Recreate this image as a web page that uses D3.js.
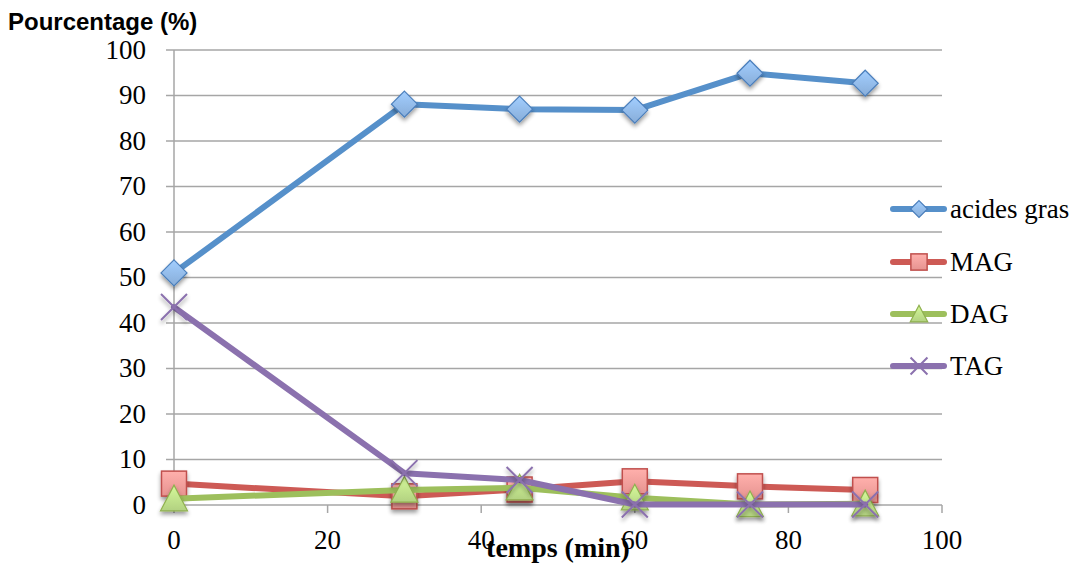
<!DOCTYPE html>
<html><head><meta charset="utf-8">
<script src="https://cdn.jsdelivr.net/npm/d3@7"></script>
<style>body{margin:0;background:#fff}</style>
</head><body>
<svg id="c" width="1079" height="564"></svg>
<script>
const times = [0, 30, 45, 60, 75, 90];
const acidesGras = [51, 88.1, 87.0, 86.8, 94.9, 92.7];
const MAG = [4.7, 1.9, 3.4, 5.2, 4.1, 3.3];
const DAG = [1.4, 3.3, 3.8, 1.6, 0.1, 0.3];
const TAG = [43.5, 7, 5.5, 0.1, 0.1, 0.1];
const seriesNames = ["acides gras", "MAG", "DAG", "TAG"];
const xTicks = [0, 20, 40, 60, 80, 100];
const yTicks = [0, 10, 20, 30, 40, 50, 60, 70, 80, 90, 100];

const series = [
  {name: seriesNames[0], values: acidesGras, line: "#5690ca", fill: "#8fb6e4", stroke: "#4a7ebb", shape: "diamond"},
  {name: seriesNames[1], values: MAG, line: "#cd5a55", fill: "#f39b98", stroke: "#c0504d", shape: "square"},
  {name: seriesNames[2], values: DAG, line: "#9dbf5c", fill: "#bcdc88", stroke: "#8fb04f", shape: "triangle"},
  {name: seriesNames[3], values: TAG, line: "#8b71ae", fill: "none", stroke: "#8b71ae", shape: "x"}
];

const svg = d3.select("#c");
const x = d3.scaleLinear().domain([0, 100]).range([174, 942]);
const y = d3.scaleLinear().domain([0, 100]).range([505, 50]);

const defs = svg.append("defs");
const f = defs.append("filter").attr("id", "sh").attr("x", "-50%").attr("y", "-50%").attr("width", "200%").attr("height", "200%");
f.append("feGaussianBlur").attr("in", "SourceAlpha").attr("stdDeviation", 2.2);
f.append("feOffset").attr("dx", 0).attr("dy", 2.5).attr("result", "b");
f.append("feComponentTransfer").append("feFuncA").attr("type", "linear").attr("slope", 0.4);
const m = f.append("feMerge"); m.append("feMergeNode"); m.append("feMergeNode").attr("in", "SourceGraphic");
series.forEach((s, i) => {
  if (s.fill === "none") return;
  const g = defs.append("linearGradient").attr("id", "g" + i).attr("x1", 0).attr("y1", 0).attr("x2", 0).attr("y2", 1);
  g.append("stop").attr("offset", "0%").attr("stop-color", d3.color(s.fill).brighter(0.35));
  g.append("stop").attr("offset", "100%").attr("stop-color", d3.color(s.fill).darker(0.15));
});

// gridlines
svg.append("g").selectAll("line").data(yTicks).join("line")
  .attr("x1", 166).attr("x2", 942).attr("y1", d => y(d)).attr("y2", d => y(d))
  .attr("stroke", "#a6a6a6").attr("stroke-width", 1.5);
// y axis line
svg.append("line").attr("x1", x(0)).attr("x2", x(0)).attr("y1", y(100)).attr("y2", y(0))
  .attr("stroke", "#a6a6a6").attr("stroke-width", 1.5);
// x ticks
svg.append("g").selectAll("line").data(xTicks).join("line")
  .attr("x1", d => x(d)).attr("x2", d => x(d)).attr("y1", y(0)).attr("y2", y(0) + 8)
  .attr("stroke", "#a6a6a6").attr("stroke-width", 1.5);

const serif = "'Liberation Serif', 'Times New Roman', serif";
svg.append("g").selectAll("text").data(yTicks).join("text")
  .attr("x", 146).attr("y", d => y(d)).attr("dy", "0.33em").attr("text-anchor", "end")
  .attr("font-family", serif).attr("font-size", 27).attr("fill", "#000").text(d => d);
svg.append("g").selectAll("text").data(xTicks).join("text")
  .attr("x", d => x(d)).attr("y", 549).attr("text-anchor", "middle")
  .attr("font-family", serif).attr("font-size", 27).attr("fill", "#000").text(d => d);

svg.append("text").attr("x", 8).attr("y", 30).attr("font-family", "'Liberation Sans', Arial, sans-serif")
  .attr("font-weight", "bold").attr("font-size", 24).text("Pourcentage (%)");

function marker(g, s, i, cx, cy, scale) {
  const k = scale || 1;
  const fill = s.fill === "none" ? "none" : `url(#g${i})`;
  if (s.shape === "diamond") {
    const r = 13 * k;
    g.append("path").attr("d", `M${cx},${cy - r}L${cx + r},${cy}L${cx},${cy + r}L${cx - r},${cy}Z`)
      .attr("fill", fill).attr("stroke", s.stroke).attr("stroke-width", 1.2);
  } else if (s.shape === "square") {
    const r = 12.5 * k;
    g.append("rect").attr("x", cx - r).attr("y", cy - r).attr("width", 2 * r).attr("height", 2 * r)
      .attr("fill", fill).attr("stroke", s.stroke).attr("stroke-width", 1.5);
  } else if (s.shape === "triangle") {
    const r = 13.5 * k;
    g.append("path").attr("d", `M${cx},${cy - r}L${cx + r},${cy + r * 0.9}L${cx - r},${cy + r * 0.9}Z`)
      .attr("fill", fill).attr("stroke", s.stroke).attr("stroke-width", 1.2);
  } else {
    const r = 13 * k;
    g.append("path").attr("d", `M${cx - r},${cy - r}L${cx + r},${cy + r}M${cx - r},${cy + r}L${cx + r},${cy - r}`)
      .attr("stroke", s.stroke).attr("stroke-width", 2);
  }
}

const line = d3.line().x(d => x(d[0])).y(d => y(d[1]));
series.forEach((s, i) => {
  const pts = times.map((t, j) => [t, s.values[j]]);
  const g = svg.append("g");
  g.append("path").datum(pts).attr("d", line).attr("fill", "none")
    .attr("stroke", s.line).attr("stroke-width", 6).attr("stroke-linejoin", "round").attr("stroke-linecap", "round");
  const mg = g.append("g").attr("filter", "url(#sh)");
  pts.forEach(p => marker(mg, s, i, x(p[0]), y(p[1])));
});

// x title
svg.append("text").attr("x", 558).attr("y", 557).attr("text-anchor", "middle")
  .attr("font-family", serif).attr("font-weight", "bold").attr("font-size", 28).text("temps (min)");

// legend
const legY = [209, 262, 314, 366];
series.forEach((s, i) => {
  const g = svg.append("g");
  g.append("line").attr("x1", 893).attr("x2", 944).attr("y1", legY[i]).attr("y2", legY[i])
    .attr("stroke", s.line).attr("stroke-width", 6).attr("stroke-linecap", "round");
  marker(g, s, i, 919, legY[i], 0.65);
  g.append("text").attr("x", 950).attr("y", legY[i]).attr("dy", "0.33em")
    .attr("font-family", serif).attr("font-size", 27).text(s.name);
});
</script>
</body></html>
